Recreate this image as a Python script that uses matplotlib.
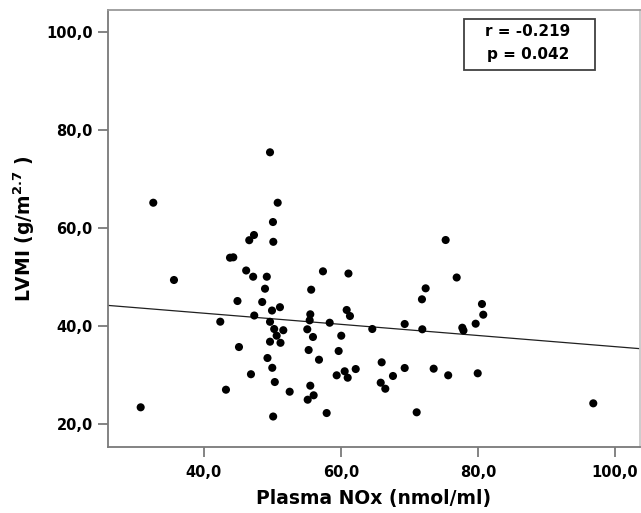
import matplotlib
matplotlib.use("Agg")
import matplotlib.pyplot as plt
import numpy as np
from matplotlib.patches import Rectangle

plt.rcParams['font.family'] = ['DejaVu Sans']
plt.rcParams['mathtext.fontset'] = 'dejavusans'

# Data (Plasma NOx, LVMI)
nox = [32.60, 35.62, 30.76, 42.38, 43.21, 45.11, 44.89, 43.80, 44.28, 46.16,
       47.18, 46.61, 47.30, 46.86, 47.34, 48.50, 48.91, 49.17, 49.64, 50.76,
       50.07, 50.12, 51.09, 49.93, 49.64, 50.25, 51.58, 50.61, 49.64, 51.17,
       49.27, 49.97, 50.34, 52.51, 50.10,
       57.37, 61.09, 55.65, 76.89, 72.36, 71.82, 55.52, 55.43, 60.83, 61.31,
       58.35, 55.08, 55.91, 60.04, 64.57, 69.30, 71.87, 77.71, 77.88, 79.66,
       80.58, 80.77, 55.28, 59.66, 56.79, 65.94, 69.30, 62.15, 60.54, 59.37,
       60.98, 67.59, 73.53, 75.65, 79.96, 65.80, 66.47, 55.52, 56.01, 55.14,
       57.91, 71.05, 96.83, 75.28]
lvmi = [65.16, 49.39, 23.41, 40.88, 27.00, 35.71, 45.10, 53.94, 54.02, 51.33,
        50.06, 57.51, 58.57, 30.16, 42.14, 44.90, 47.61, 50.06, 75.45, 65.16,
        61.22, 57.18, 43.84, 43.16, 40.86, 39.39, 39.14, 38.02, 36.80, 36.57,
        33.47, 31.47, 28.57, 26.59, 21.53,
        51.16, 50.71, 47.41, 49.90, 47.69, 45.45, 42.39, 41.16, 43.27, 42.04,
        40.67, 39.33, 37.76, 38.02, 39.39, 40.41, 39.33, 39.65, 39.08, 40.47,
        44.49, 42.31, 35.10, 34.90, 33.12, 32.59, 31.43, 31.22, 30.76, 29.94,
        29.45, 29.80, 31.29, 29.94, 30.35, 28.43, 27.20, 27.82, 25.86, 24.96,
        22.24, 22.39, 24.22, 57.55]

fit_intercept = 47.16
fit_slope = -0.1137

x_ticks = [40, 60, 80, 100]
x_tick_labels = ['40,0', '60,0', '80,0', '100,0']
y_ticks = [20, 40, 60, 80, 100]
y_tick_labels = ['20,0', '40,0', '60,0', '80,0', '100,0']
stats_text = ['r = -0.219', 'p = 0.042']

W, H = 641, 513
fig = plt.figure(figsize=(W / 100, H / 100), dpi=100)
ax = fig.add_axes([108 / W, (H - 446.7) / H, (640 - 108) / W, (446.7 - 10) / H])

xlim = (25.99, 103.65)
ylim = (15.37, 104.49)

ax.scatter(nox, lvmi, s=34, color='black', edgecolors='none', zorder=3)

xl = np.array(xlim)
ax.plot(xl, fit_intercept + fit_slope * xl, color='#202020', lw=0.9, zorder=2)

ax.set_xlim(*xlim)
ax.set_ylim(*ylim)
ax.set_xticks(x_ticks)
ax.set_xticklabels(x_tick_labels)
ax.set_yticks(y_ticks)
ax.set_yticklabels(y_tick_labels)

spine_col = '#7a7a7a'
for side, sp in ax.spines.items():
    sp.set_color(spine_col)
    sp.set_linewidth(1.3)
ax.spines['right'].set_color('#c8c8c8')
ax.spines['top'].set_color('#9a9a9a')

ax.tick_params(axis='both', direction='out', length=7, width=1.3, color=spine_col,
               labelsize=10.5, pad=4)
ax.tick_params(axis='x', pad=6)
for lab in ax.get_xticklabels() + ax.get_yticklabels():
    lab.set_fontweight('bold')

ax.set_xlabel('Plasma NOx (nmol/ml)', fontsize=13.5, fontweight='bold', labelpad=7)
ax.set_ylabel(r'LVMI (g/m$^{\mathbf{2.7}}$ )', fontsize=13.5, fontweight='bold', labelpad=6.5)

# stats box in pixel coords
bx0, by0, bx1, by1 = 464, 19, 595, 70
rect = Rectangle((bx0 / W, 1 - by1 / H), (bx1 - bx0) / W, (by1 - by0) / H,
                 transform=fig.transFigure, fill=False, edgecolor='#404040', lw=1.3)
fig.patches.append(rect)
fig.text(528 / W, 1 - 32 / H, stats_text[0], ha='center', va='center',
         fontsize=11, fontweight='bold')
fig.text(528 / W, 1 - 55 / H, stats_text[1], ha='center', va='center',
         fontsize=11, fontweight='bold')

fig.savefig('out.png', dpi=100)
